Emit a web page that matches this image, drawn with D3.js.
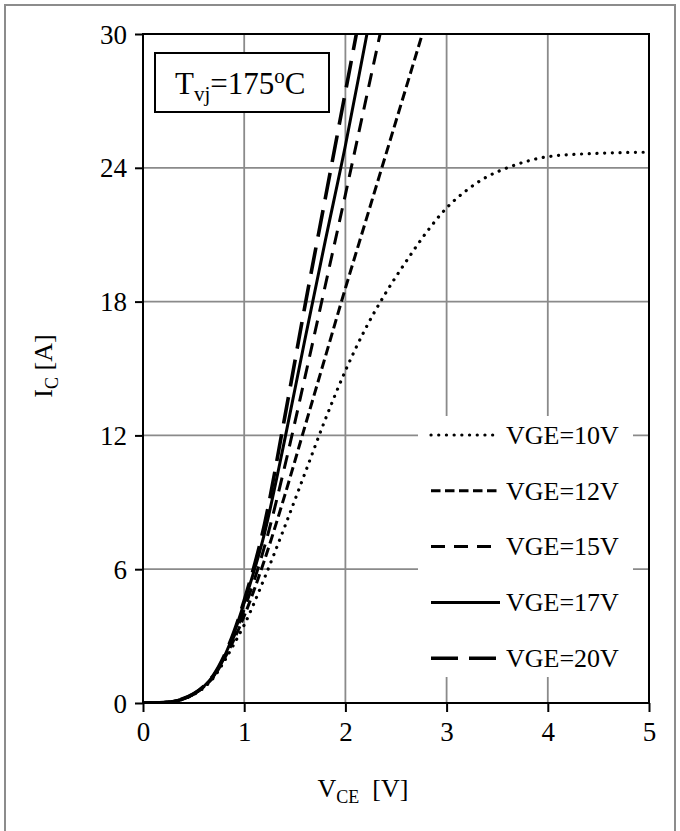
<!DOCTYPE html>
<html>
<head>
<meta charset="utf-8">
<script src="https://cdn.jsdelivr.net/npm/d3@7"></script>
<style>
  body { margin: 0; background: #fff; }
  svg { display: block; }
  svg text {
    font-family: "Liberation Serif", "Times New Roman", Times, Tinos, "DejaVu Serif", serif !important;
    fill: #000;
  }
</style>
</head>
<body>
<svg id="chart" width="680" height="831"></svg>
<script>
// Collector-emitter voltage sample points [V]
const vce = [0, 0.2, 0.4, 0.5, 0.6, 0.7, 0.8, 0.9, 1.0, 1.2, 1.4, 1.6, 1.8, 2.0,
             2.2, 2.4, 2.6, 2.8, 3.0, 3.2, 3.4, 3.6, 3.8, 4.0, 4.5, 5.0];

// Collector current [A] per gate voltage (arrays stop once the curve leaves the top)
const ic10 = [0, 0.02, 0.18, 0.38, 0.68, 1.15, 1.85, 2.65, 3.5, 5.6, 7.9, 10.3, 12.7, 14.9,
              16.8, 18.4, 19.8, 21.1, 22.2, 23.0, 23.6, 24.0, 24.3, 24.5, 24.65, 24.7];
const ic12 = [0, 0.02, 0.19, 0.4, 0.72, 1.2, 1.95, 2.85, 3.9, 6.4, 9.3, 12.4, 15.5, 18.6,
              21.6, 24.6, 27.6, 30.6];
const ic15 = [0, 0.02, 0.19, 0.4, 0.73, 1.22, 2.0, 3.0, 4.2, 7.0, 10.6, 14.6, 18.7, 22.8,
              27.0, 31.2];
const ic17 = [0, 0.02, 0.19, 0.41, 0.74, 1.25, 2.05, 3.15, 4.5, 7.6, 11.8, 16.3, 20.7, 25.0,
              29.7, 34.4];
const ic20 = [0, 0.02, 0.2, 0.41, 0.75, 1.27, 2.1, 3.2, 4.6, 8.0, 12.8, 17.8, 22.6, 27.4,
              32.2];

const seriesNames = ["VGE=10V", "VGE=12V", "VGE=15V", "VGE=17V", "VGE=20V"];
const seriesValues = [ic10, ic12, ic15, ic17, ic20];

const xTicks = [0, 1, 2, 3, 4, 5];
const yTicks = [0, 6, 12, 18, 24, 30];

const FONT = '"Liberation Serif", "Times New Roman", Times, Tinos, "DejaVu Serif", serif';

// Line styles for each gate voltage
const styles = [
  { dash: "0.1 7.6", width: 3.2, cap: "round" },
  { dash: "9.5 4.5", width: 3,   cap: "butt" },
  { dash: "14 9",    width: 3,   cap: "butt" },
  { dash: null,      width: 3,   cap: "butt" },
  { dash: "27 11",   width: 3.6, cap: "butt" }
];

const svg = d3.select("#chart").attr("font-family", FONT);

// Outer frame
svg.append("rect")
  .attr("x", 5).attr("y", 5).attr("width", 670).attr("height", 840)
  .attr("fill", "none").attr("stroke", "#8c8c8c").attr("stroke-width", 2);

const plot = { left: 143, right: 649, top: 34, bottom: 703 };

const x = d3.scaleLinear().domain([0, 5]).range([plot.left, plot.right]);
const y = d3.scaleLinear().domain([0, 30]).range([plot.bottom, plot.top]);

// Grid lines
const grid = svg.append("g");
grid.selectAll("line.v").data(xTicks.slice(1, -1)).enter().append("line")
  .attr("x1", d => x(d)).attr("x2", d => x(d))
  .attr("y1", plot.top).attr("y2", plot.bottom)
  .attr("stroke", "#8a8a8a").attr("stroke-width", 1.8);
grid.selectAll("line.h").data(yTicks.slice(1, -1)).enter().append("line")
  .attr("x1", plot.left).attr("x2", plot.right)
  .attr("y1", d => y(d)).attr("y2", d => y(d))
  .attr("stroke", "#8a8a8a").attr("stroke-width", 1.8);

// Axes
const xAxis = d3.axisBottom(x).tickValues(xTicks).tickSize(9).tickPadding(10)
  .tickFormat(d3.format("d"));
const yAxis = d3.axisLeft(y).tickValues(yTicks).tickSize(8).tickPadding(8)
  .tickFormat(d3.format("d"));

const gx = svg.append("g").attr("transform", `translate(0,${plot.bottom})`).call(xAxis);
const gy = svg.append("g").attr("transform", `translate(${plot.left},0)`).call(yAxis);
[gx, gy].forEach(g => {
  g.attr("font-family", FONT).attr("font-size", 27);
  g.select(".domain").remove();
  g.selectAll(".tick line").attr("stroke", "#000").attr("stroke-width", 2);
  g.selectAll(".tick text").attr("fill", "#000");
});
gx.selectAll(".tick text").attr("dy", "0.72em");
gy.selectAll(".tick text").attr("dy", "0.34em");

// Plot border
svg.append("rect")
  .attr("x", plot.left).attr("y", plot.top)
  .attr("width", plot.right - plot.left).attr("height", plot.bottom - plot.top)
  .attr("fill", "none").attr("stroke", "#000").attr("stroke-width", 2);

// Clip for curves
svg.append("clipPath").attr("id", "plotClip").append("rect")
  .attr("x", plot.left).attr("y", plot.top)
  .attr("width", plot.right - plot.left).attr("height", plot.bottom - plot.top);

const line = d3.line()
  .x(d => x(d[0])).y(d => y(d[1]))
  .curve(d3.curveMonotoneX);

const curves = svg.append("g").attr("clip-path", "url(#plotClip)");
seriesValues.forEach((vals, i) => {
  const pts = vals.map((v, k) => [vce[k], v]);
  const s = styles[i];
  const p = curves.append("path").datum(pts)
    .attr("d", line)
    .attr("fill", "none").attr("stroke", "#000")
    .attr("stroke-width", s.width)
    .attr("stroke-linecap", s.cap)
    .attr("stroke-linejoin", "round");
  if (s.dash) p.attr("stroke-dasharray", s.dash);
});

// Temperature annotation box
svg.append("rect")
  .attr("x", 155).attr("y", 53).attr("width", 174).attr("height", 59)
  .attr("fill", "#fff").attr("stroke", "#000").attr("stroke-width", 2);
const tt = svg.append("text").attr("x", 175).attr("y", 94).attr("font-size", 31);
tt.append("tspan").text("T");
tt.append("tspan").text("vj").attr("font-size", 21).attr("dy", 7);
tt.append("tspan").text("=175").attr("dy", -7);
tt.append("tspan").text("o").attr("font-size", 21).attr("dy", -11);
tt.append("tspan").text("C").attr("dy", 11);

// Legend
const legend = svg.append("g");
legend.append("rect")
  .attr("x", 418).attr("y", 416).attr("width", 215).attr("height", 261)
  .attr("fill", "#fff");
seriesNames.forEach((name, i) => {
  const cy = 435 + i * 55.8;
  const s = styles[i];
  const l = legend.append("line")
    .attr("x1", 431).attr("x2", 500).attr("y1", cy).attr("y2", cy)
    .attr("stroke", "#000").attr("stroke-width", s.width)
    .attr("stroke-linecap", s.cap);
  if (s.dash) l.attr("stroke-dasharray", s.dash);
  legend.append("text").attr("x", 506).attr("y", cy).attr("dy", "0.34em")
    .attr("font-size", 26).text(name);
});

// Axis titles
const yt = svg.append("text")
  .attr("transform", "translate(52,366) rotate(-90)")
  .attr("text-anchor", "middle").attr("font-size", 26);
yt.append("tspan").text("I");
yt.append("tspan").text("C").attr("font-size", 18).attr("dy", 6);
yt.append("tspan").text("\u00a0[A]").attr("dy", -6);

const xt = svg.append("text")
  .attr("x", 363).attr("y", 797)
  .attr("text-anchor", "middle").attr("font-size", 26);
xt.append("tspan").text("V");
xt.append("tspan").text("CE").attr("font-size", 18).attr("dy", 6);
xt.append("tspan").text("\u00a0\u00a0[V]").attr("dy", -6);
</script>
</body>
</html>
